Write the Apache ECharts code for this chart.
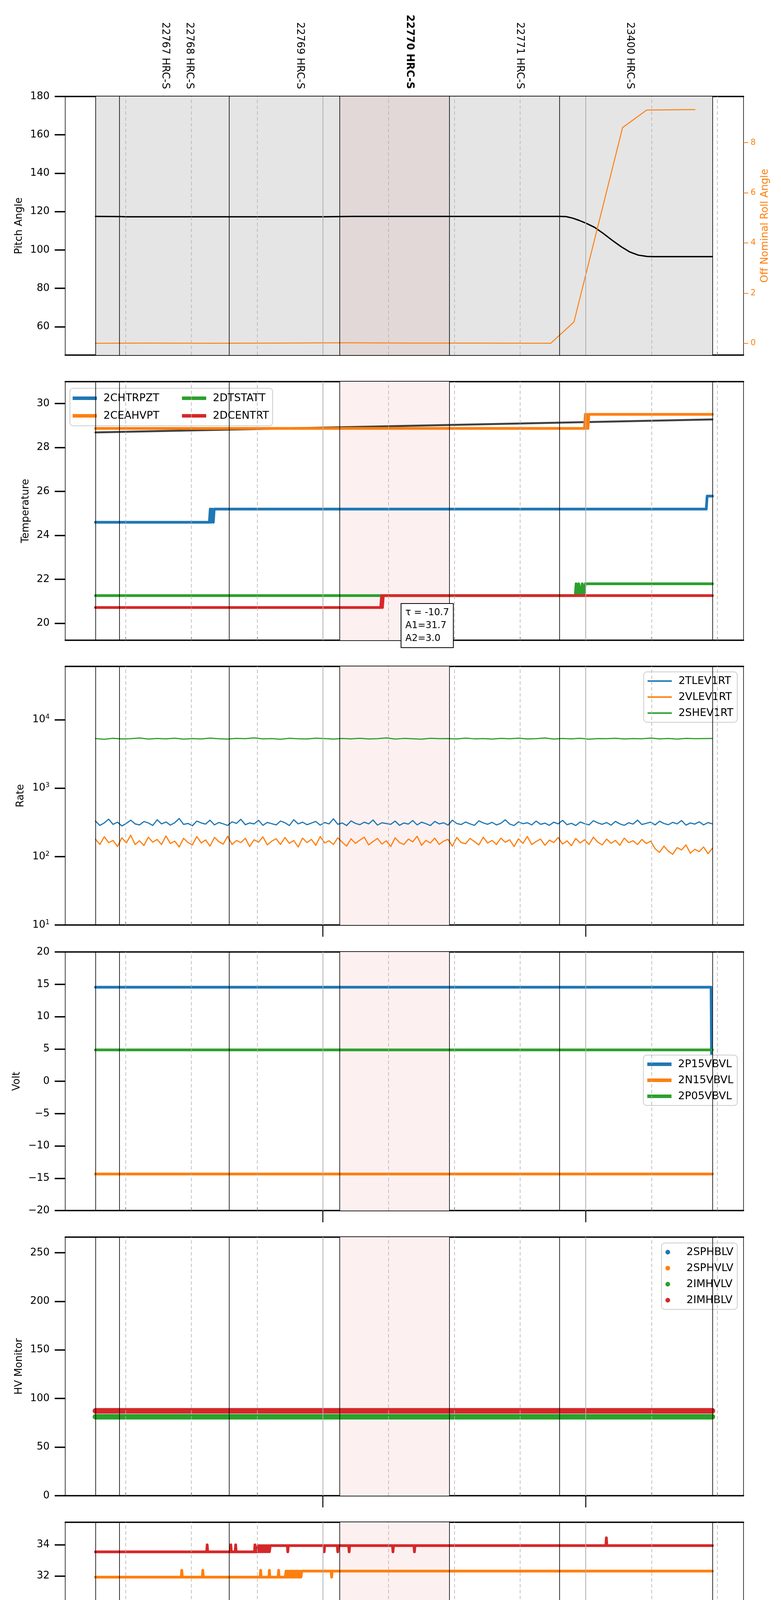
<!DOCTYPE html>
<html lang="en">
<head>
<meta charset="UTF-8">
<title>HRC obsid monitor</title>
<style>
    body { margin: 0; background: #fff; }
    #J-chart { width: 2000px; height: 5400px; }
</style>
</head>
<body>
<div id="J-chart"></div>
<script src="https://cdn.jsdelivr.net/npm/echarts@6/dist/echarts.min.js"></script>
<script>
// times are minutes relative to 2020-11-03 00:00
var tStart = -51.9, tEnd = 88.9;
var xMin = -58.8, xMax = 96;
var obsEdges = [-51.9, -46.4, -21.4, 3.8, 28.9, 54.0, 88.9];
var quarterMarks = [-45, -30, -15, 15, 30, 45, 75, 90];
var hourMarks = [0, 60];
var focusObs = [3.8, 28.9];
var obsLabelTime = [-36, -30.5, -5.3, 19.8, 44.9, 70];
var obsLabels = ['22767 HRC-S', '22768 HRC-S', '22769 HRC-S', '22770 HRC-S', '22771 HRC-S', '23400 HRC-S'];
var focusLabel = '22770 HRC-S';
var xTickValues = [-45, -30, -15, 0, 15, 30, 45, 60, 75, 90];

// panel 1
var pitchAngle = [[-51.9,117.5],[-46,117.4],[-45,117.3],[0,117.3],[6.9,117.5],[54,117.5],[55.5,117.4],[57,116.6],[58.5,115.4],[60,114.0],[62,111.8],[64,108.6],[66,105.1],[68,101.8],[70,99.0],[72,97.3],[74,96.6],[75.5,96.5],[88.9,96.5]];
var rollAngle = [[-51.9,0],[-40,0.01],[-25,0],[-10,0.01],[5,0.02],[20,0.01],[35,0.01],[52,0],[57.3,0.85],[68.4,8.6],[73.9,9.3],[84.9,9.32]];

// panel 2
var fitTemp = [[-51.9,28.69],[88.9,29.28]];
var chtrpzt = [[-51.9,24.6],[-25.9,24.6],[-25.7,25.2],[-25.5,24.6],[-25.3,25.2],[-25.0,24.6],[-24.8,25.2],[87.5,25.2],[87.7,25.79],[88.9,25.79]];
var ceahvpt = [[-51.9,28.87],[59.7,28.87],[59.9,29.51],[60.1,28.87],[60.3,29.51],[60.5,28.87],[60.7,29.51],[88.9,29.51]];
var dtstatt = [[-51.9,21.26],[57.6,21.26],[57.8,21.8],[58.1,21.26],[58.4,21.8],[58.8,21.26],[59.2,21.8],[59.5,21.26],[59.9,21.8],[88.9,21.8]];
var dcentrt = [[-51.9,20.72],[13.2,20.72],[13.4,21.26],[13.6,20.72],[13.8,21.26],[88.9,21.26]];

// panel 3 (evenly sampled over the interval)
var tlev1rt = [330,285,310,352,295,318,280,305,340,300,
    290,325,310,285,345,300,320,288,312,360,
    295,305,282,330,310,298,340,290,315,300,
    285,322,305,350,292,310,300,338,286,315,
    302,290,330,312,284,345,300,318,292,308,
    326,288,314,300,356,296,310,284,332,305,
    292,318,300,342,288,312,304,296,330,286,
    310,298,336,290,318,302,284,326,300,312,
    288,340,304,294,320,300,286,332,310,296,
    316,290,306,344,298,284,322,302,312,290,
    330,296,308,286,318,300,338,292,306,284,
    320,302,290,334,310,296,314,288,326,300,
    286,312,298,340,294,306,318,290,328,304,
    292,316,300,336,288,310,298,322,290,314,
    300];
var vlev1rt = [180,150,195,160,172,140,188,158,205,150,
    170,145,192,162,178,150,200,155,168,138,
    185,160,148,196,158,175,142,190,165,152,
    198,150,172,160,185,140,176,162,194,148,
    168,182,150,190,156,172,138,186,160,178,
    146,196,158,170,150,188,162,142,182,156,
    174,192,148,166,184,152,170,140,188,160,
    150,180,164,198,146,172,158,186,150,168,
    178,142,190,160,154,184,166,148,192,158,
    172,150,186,162,176,140,182,156,196,150,
    166,180,146,174,160,190,152,170,144,184,
    158,176,150,192,162,148,180,156,172,146,
    186,160,170,150,178,155,168,
    130,115,142,120,108,135,125,148,112,128,118,138,110,132];
var shev1rt = [5300,5180,5350,5220,5280,5400,5200,5310,5250,5360,
    5190,5290,5230,5380,5260,5210,5330,5270,5420,5240,
    5300,5180,5340,5260,5220,5370,5290,5200,5310,5250,
    5350,5230,5280,5410,5210,5320,5260,5190,5340,5270,
    5300,5220,5380,5250,5290,5200,5330,5260,5360,5230,
    5280,5400,5210,5310,5250,5340,5190,5290,5270,5350,
    5220,5300,5260,5380,5240,5310,5200,5330,5270,5290,
    5310];

// panel 4
var p15vbvl = [[-51.9,14.54],[88.6,14.54],[88.7,4.0]];
var n15vbvl = [[-51.9,-14.35],[88.9,-14.35]];
var p05vbvl = [[-51.9,4.85],[88.9,4.85]];

// panel 5
var sphblv = [[-51.9,87.3],[88.9,87.3]];
var sphvlv = [[-51.9,81.2],[88.9,81.2]];
var imhvlv = [[-51.9,81.2],[88.9,81.2]];
var imhblv = [[-51.9,87.3],[88.9,87.3]];

// panel 6
var spinatm = [[-51.9,20.29],[88.9,20.29]];
var sphvatmSteps = [[-51.9,31.92],[-8.6,31.92],[-8.4,32.31],[-8.2,31.92],[-8.0,32.31],[-7.8,31.92],[-7.6,32.31],[-7.4,31.92],[-7.2,32.31],[-7.0,31.92],[-6.8,32.31],[-6.6,31.92],[-6.4,32.31],[-6.2,31.92],[-6.0,32.31],[-5.8,31.92],[-5.6,32.31],[-5.4,31.92],[-5.2,32.31],[-5.0,31.92],[-4.8,32.31],[88.9,32.31]];
var sphvatmSpikes = [[-32.2,32.36],[-27.4,32.36],[-14.2,32.36],[-12.2,32.36],[-10.1,32.36],[2.0,31.92]];
var iminatm = [[-51.9,20.99],[6.6,20.99],[6.8,21.69],[7.0,20.99],[7.2,21.69],[7.4,20.99],[7.6,21.69],[7.8,20.99],[8.0,21.69],[8.2,20.99],[8.4,21.69],[8.6,20.99],[8.8,21.69],[9.0,20.99],[9.2,21.69],[9.4,20.99],[9.6,21.69],[9.8,20.99],[10.0,21.69],[10.2,20.99],[10.4,21.69],[10.6,20.99],[10.8,21.69],[11.0,20.99],[11.2,21.69],[11.4,20.99],[11.6,21.69],[11.8,20.99],[12.0,21.69],[88.9,21.69]];
var imhvatmSteps = [[-51.9,33.55],[-15.0,33.55],[-14.8,33.95],[-14.6,33.55],[-14.4,33.95],[-14.2,33.55],[-14.0,33.95],[-13.8,33.55],[-13.6,33.95],[-13.4,33.55],[-13.2,33.95],[-13.0,33.55],[-12.8,33.95],[-12.6,33.55],[-12.4,33.95],[-12.2,33.55],[-12.0,33.95],[88.9,33.95]];
var imhvatmSpikes = [[-26.4,34.0],[-21,34.0],[-19.9,34.0],[-15.5,34.0],[-8.0,33.55],[0.3,33.55],[3.4,33.55],[6.0,33.55],[16,33.55],[20.9,33.55],[64.7,34.45]];

// panel 7
var fhtrmzt = [[-51.9,23.47],[7.2,23.47],[7.4,24.04],[7.7,23.47],[8.1,24.04],[8.4,23.47],[8.8,24.04],[9.2,23.47],[9.5,24.04],[88.9,24.04]];
var fradpyt = [[-51.9,18.67],[-16.0,18.67],[-15.8,19.16],[-15.6,18.67],[-15.4,19.16],[-15.2,18.67],[-15.0,19.16],[-12.4,19.16],[-12.2,18.67],[-12.0,19.16],[72.5,19.16],[73.9,18.67],[88.9,18.67]];
var fepratm = [[-51.9,25.39],[88.9,25.39]];
var fe00atmSteps = [[-51.9,23.3],[88.9,23.3]];
var fe00atmSpikes = [[-45.7,22.96],[-44.8,23.65],[-39.5,23.65],[-37.2,22.62],[-36.8,22.62],[-31.9,23.65],[-29.9,22.96],[-27.4,23.99],[-18.1,23.65],[-11.1,22.96],[-9.0,22.62],[-6.4,22.96],[13.7,23.65],[15.5,23.65],[31.1,22.96],[36.5,24.31],[37.8,23.99],[38.7,23.65],[47.1,23.65],[49.9,23.65],[55.2,23.65],[59.3,23.65],[60.4,23.65],[61.6,23.65],[63.8,23.65],[66.2,24.65],[76.1,22.96]];

// y axes of the seven panels
var panelNames = ['Pitch Angle', 'Temperature', 'Rate', 'Volt', 'HV Monitor', 'Detector Temp', 'FEA Temp'];
var panelMin = [45.2, 19.23, 10, -20, 0, 18.82, 17.17];
var panelMax = [180, 31.0, 60000, 20, 266, 35.45, 26.88];
var panelTicks = [
    [60, 80, 100, 120, 140, 160, 180],
    [20, 22, 24, 26, 28, 30],
    [10, 100, 1000, 10000],
    [-20, -15, -10, -5, 0, 5, 10, 15, 20],
    [0, 50, 100, 150, 200, 250],
    [20, 22, 24, 26, 28, 30, 32, 34],
    [18, 20, 22, 24, 26]
];
var rollTicks = [0, 2, 4, 6, 8];
var rollMin = -0.47, rollMax = 9.84;

var FONT = 'DejaVu Sans';
var C = ['#1f77b4', '#ff7f0e', '#2ca02c', '#d62728'];
var panelTop = [247, 977, 1706, 2437, 3167, 3897, 4627];
var panelH = 662;
var nameGaps = [105, 88, 101, 111, 105, 88, 88];

function withSpikes(steps, spikes) {
    var pts = steps.slice();
    spikes.forEach(function (s) {
        var base = steps[0][1];
        steps.forEach(function (p) { if (p[0] <= s[0]) base = p[1]; });
        pts.push([s[0] - 0.12, base], [s[0], s[1]], [s[0] + 0.12, base]);
    });
    return pts.sort(function (a, b) { return a[0] - b[0]; });
}

function spread(vals) {
    var step = (tEnd - tStart) / (vals.length - 1);
    return vals.map(function (v, i) { return [tStart + i * step, v]; });
}

function line(name, data, color, width, gi, yi) {
    return {
        name: name, type: 'line', data: data,
        xAxisIndex: gi, yAxisIndex: yi == null ? gi : yi,
        showSymbol: false, symbol: 'none', silent: true, z: 3,
        lineStyle: { color: color, width: width, join: 'round', cap: 'round' },
        itemStyle: { color: color }
    };
}

function minus(v) {
    return v < 0 ? '\u2212' + Math.abs(v) : String(v);
}

var chart = echarts.init(document.getElementById('J-chart'));

var grids = [], xAxes = [], yAxes = [], series = [];

panelTop.forEach(function (top, i) {
    grids.push({
        left: 167, width: 1737, top: top, height: panelH,
        show: true, borderColor: '#000', borderWidth: 1.5, backgroundColor: 'rgba(0,0,0,0)'
    });

    var isLast = i === panelTop.length - 1;
    xAxes.push({
        type: 'value', gridIndex: i, min: xMin, max: xMax, position: 'bottom',
        axisLine: { show: true, onZero: false, lineStyle: { color: '#000', width: 3.5 } },
        axisTick: { show: true, inside: true, customValues: quarterMarks, length: 8, lineStyle: { color: '#000', width: 2 } },
        axisLabel: {
            show: isLast, customValues: xTickValues, margin: 8, color: '#000',
            formatter: function (v) {
                if (v === 0) return '{maj|00h}';
                if (v === 60) return '{maj|01h}';
                return '{mn|' + (((v % 60) + 60) % 60) + '}';
            },
            rich: {
                mn: { fontSize: 17, fontFamily: FONT, color: '#000' },
                maj: { fontSize: 26, fontFamily: FONT, color: '#000', padding: [34, 0, 0, 0] }
            }
        },
        splitLine: { show: false },
        name: isLast ? '2020-11-03 (308)' : '',
        nameLocation: 'middle', nameGap: 72,
        nameTextStyle: { fontSize: 32, fontFamily: FONT, color: '#000' }
    });

    var isLog = i === 2;
    yAxes.push({
        type: isLog ? 'log' : 'value', logBase: 10, gridIndex: i, position: 'left',
        min: panelMin[i], max: panelMax[i],
        axisLine: { show: false, onZero: false },
        axisTick: { show: true, customValues: panelTicks[i], length: 27, lineStyle: { color: '#000', width: 3.5 } },
        axisLabel: {
            customValues: panelTicks[i], margin: 40, fontSize: 26, fontFamily: FONT, color: '#000',
            formatter: isLog ? function (v) {
                return '{b|10}{s|' + Math.round(Math.log(v) / Math.LN10) + '}';
            } : minus,
            rich: isLog ? {
                b: { fontSize: 26, fontFamily: FONT, color: '#000', lineHeight: 30 },
                s: { fontSize: 17, fontFamily: FONT, color: '#000', verticalAlign: 'top', lineHeight: 30 }
            } : undefined
        },
        splitLine: { show: false },
        name: panelNames[i], nameLocation: 'middle', nameGap: nameGaps[i],
        nameTextStyle: { fontSize: 26, fontFamily: FONT, color: '#000' }
    });

    // shading and vertical guide lines
    var areas = [];
    if (i === 0) {
        areas.push([{ xAxis: tStart, itemStyle: { color: '#e5e5e5' } }, { xAxis: tEnd }]);
        areas.push([{ xAxis: focusObs[0], itemStyle: { color: '#e2d8d8' } }, { xAxis: focusObs[1] }]);
    } else {
        areas.push([{ xAxis: focusObs[0], itemStyle: { color: '#fdf0f0' } }, { xAxis: focusObs[1] }]);
    }
    var guides = [];
    quarterMarks.forEach(function (v) {
        guides.push({ xAxis: v, lineStyle: { color: '#b0b0b0', width: 1.5, type: [9, 6] } });
    });
    hourMarks.forEach(function (v) {
        guides.push({ xAxis: v, lineStyle: { color: '#b0b0b0', width: 2, type: 'solid' } });
    });
    obsEdges.forEach(function (v) {
        guides.push({ xAxis: v, lineStyle: { color: '#000', width: 1.6, type: 'solid' } });
    });
    series.push({
        type: 'line', xAxisIndex: i, yAxisIndex: i, data: [], z: 1, silent: true,
        markArea: { silent: true, data: areas },
        markLine: { silent: true, symbol: ['none', 'none'], label: { show: false }, data: guides }
    });
});

// top spines, and obsid labels above panel 1
panelTop.forEach(function (top, i) {
    xAxes.push({
        type: 'value', gridIndex: i, min: xMin, max: xMax, position: 'top',
        axisLine: { show: true, onZero: false, lineStyle: { color: '#000', width: 3.5 } },
        axisTick: { show: false },
        axisLabel: i === 0 ? {
            show: true, customValues: obsLabelTime, rotate: 90, margin: 19,
            formatter: function (v) {
                var s = obsLabels[obsLabelTime.indexOf(v)];
                return s === focusLabel ? '{f|' + s + '}' : '{n|' + s + '}';
            },
            rich: {
                n: { fontSize: 26, fontFamily: FONT, color: '#000' },
                f: { fontSize: 26, fontFamily: FONT, color: '#000', fontWeight: 'bold' }
            }
        } : { show: false },
        splitLine: { show: false }
    });
});

// right axis of panel 1
yAxes.push({
    type: 'value', gridIndex: 0, position: 'right', min: rollMin, max: rollMax,
    axisLine: { show: false, onZero: false },
    axisTick: { show: true, customValues: rollTicks, length: 12, lineStyle: { color: C[1], width: 2 } },
    axisLabel: { customValues: rollTicks, margin: 18, fontSize: 21, fontFamily: FONT, color: C[1] },
    splitLine: { show: false },
    name: 'Off Nominal Roll Angle', nameLocation: 'middle', nameGap: 42,
    nameTextStyle: { fontSize: 26, fontFamily: FONT, color: C[1] }
});

series.push(
    line('pitch', pitchAngle, '#000', 3.5, 0),
    line('roll', rollAngle, C[1], 2.5, 0, 7),

    line('fit', fitTemp, '#404040', 5, 1),
    line('2CHTRPZT', chtrpzt, C[0], 7, 1),
    line('2CEAHVPT', ceahvpt, C[1], 7, 1),
    line('2DTSTATT', dtstatt, C[2], 7, 1),
    line('2DCENTRT', dcentrt, C[3], 7, 1),

    line('2TLEV1RT', spread(tlev1rt), C[0], 3, 2),
    line('2VLEV1RT', spread(vlev1rt), C[1], 3, 2),
    line('2SHEV1RT', spread(shev1rt), C[2], 3, 2),

    line('2P15VBVL', p15vbvl, C[0], 7, 3),
    line('2N15VBVL', n15vbvl, C[1], 7, 3),
    line('2P05VBVL', p05vbvl, C[2], 7, 3),

    line('2SPHBLV', sphblv, C[0], 14, 4),
    line('2SPHVLV', sphvlv, C[1], 14, 4),
    line('2IMHVLV', imhvlv, C[2], 14, 4),
    line('2IMHBLV', imhblv, C[3], 14, 4),

    line('2SPINATM', spinatm, C[0], 7, 5),
    line('2SPHVATM', withSpikes(sphvatmSteps, sphvatmSpikes), C[1], 7, 5),
    line('2IMINATM', iminatm, C[2], 7, 5),
    line('2IMHVATM', withSpikes(imhvatmSteps, imhvatmSpikes), C[3], 7, 5),

    line('2FHTRMZT', fhtrmzt, C[0], 7, 6),
    line('2FRADPYT', fradpyt, C[1], 7, 6),
    line('2FEPRATM', fepratm, C[2], 7, 6),
    line('2FE00ATM', withSpikes(fe00atmSteps, fe00atmSpikes), C[3], 7, 6)
);

function legendBox(opts) {
    var base = {
        orient: 'vertical', selectedMode: false, icon: 'rect',
        itemWidth: 62, itemHeight: 9, itemGap: 14, padding: 10,
        backgroundColor: 'rgba(255,255,255,0.85)', borderColor: '#cccccc', borderWidth: 2, borderRadius: 8,
        textStyle: { fontSize: 27, fontFamily: FONT, color: '#000', padding: [0, 0, 0, 12] }
    };
    for (var k in opts) base[k] = opts[k];
    return base;
}

var legends = [
    legendBox({ left: 179, top: 994, padding: [12, 290, 12, 7], itemGap: 18, data: ['2CHTRPZT', '2CEAHVPT'] }),
    legendBox({ left: 458, top: 994, padding: [12, 8, 12, 8], itemGap: 18, backgroundColor: 'rgba(0,0,0,0)', borderWidth: 0, data: ['2DTSTATT', '2DCENTRT'] }),
    legendBox({ right: 112, top: 1720, itemHeight: 4, data: ['2TLEV1RT', '2VLEV1RT', '2SHEV1RT'] }),
    legendBox({ right: 112, top: 2701, data: ['2P15VBVL', '2N15VBVL', '2P05VBVL'] }),
    legendBox({ right: 112, top: 3182, icon: 'circle', itemHeight: 12, data: ['2SPHBLV', '2SPHVLV', '2IMHVLV', '2IMHBLV'] }),
    legendBox({ right: 112, top: 4142, data: ['2SPINATM', '2SPHVATM', '2IMINATM', '2IMHVATM'] }),
    legendBox({ right: 112, top: 5101, data: ['2FHTRMZT', '2FRADPYT', '2FEPRATM', '2FE00ATM'] })
];

chart.setOption({
    animation: false,
    backgroundColor: '#fff',
    textStyle: { fontFamily: FONT },
    grid: grids,
    xAxis: xAxes,
    yAxis: yAxes,
    legend: legends,
    series: series
});

// long outward hour ticks under panels 3-7, placed through the axis scale
var extras = [{
    type: 'text', left: 1026, top: 1544, z: 100,
    style: {
        text: '\u03c4 = -10.7\nA1=31.7\nA2=3.0',
        fontSize: 24, fontFamily: FONT, fill: '#000', lineHeight: 33,
        backgroundColor: '#fff', borderColor: '#000', borderWidth: 2, padding: [6, 10, 6, 10]
    }
}];
for (var gi = 2; gi < panelTop.length; gi++) {
    hourMarks.forEach(function (v) {
        var x = chart.convertToPixel({ xAxisIndex: gi }, v);
        var y = panelTop[gi] + panelH;
        extras.push({
            type: 'line', z: 50, silent: true,
            shape: { x1: x, y1: y, x2: x, y2: y + 30 },
            style: { stroke: '#000', lineWidth: 2.5 }
        });
    });
}
chart.setOption({ graphic: extras });
</script>
</body>
</html>
